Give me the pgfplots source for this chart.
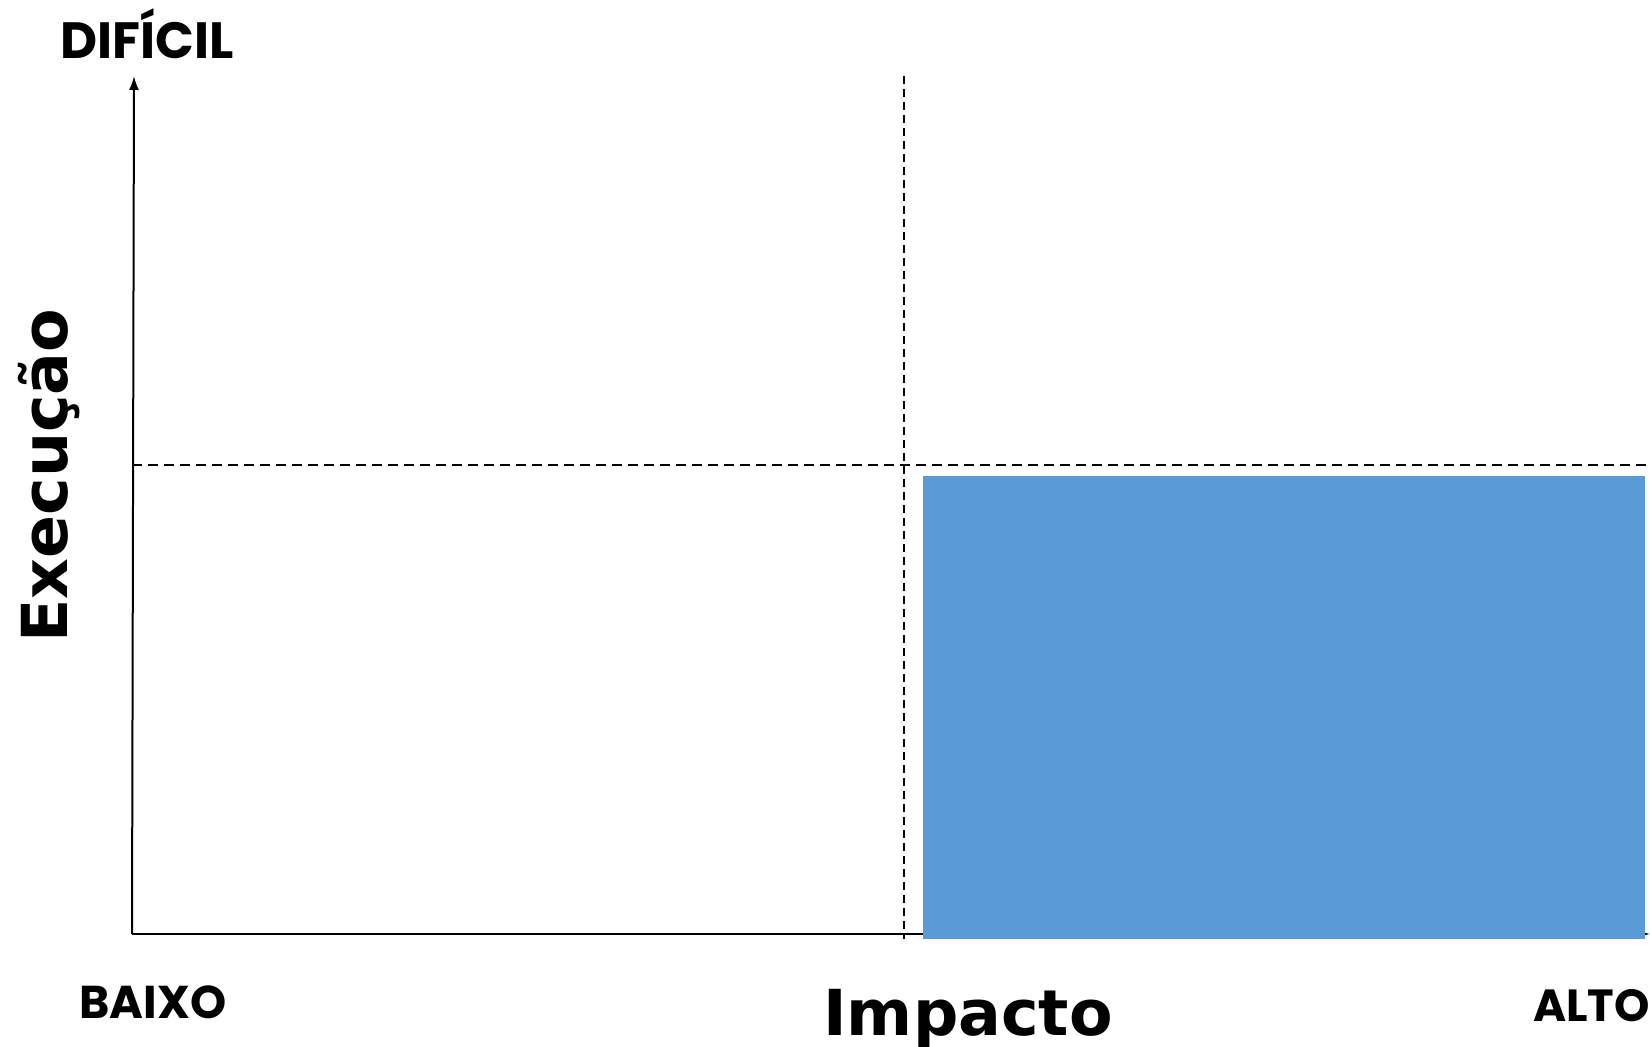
\documentclass[border=0pt]{standalone}
\usepackage{pgfplots}
\pgfplotsset{compat=1.18}
\usetikzlibrary{arrows.meta}
\usepackage{fontspec}
\setmainfont{DejaVu Sans}
\newfontfamily\geo{Poppins}
\definecolor{qblue}{HTML}{5B9BD5}
\begin{document}
\begin{tikzpicture}
\begin{axis}[name=ax, hide axis, scale only axis, width=825pt, height=523.5pt,
  xmin=0, xmax=1650, ymin=0, ymax=1047, y dir=reverse, clip=false]
% dashed quadrant dividers
\addplot[black, line width=0.75pt, dash pattern=on 4pt off 2.5pt] coordinates {(904,76) (904,939)};
\addplot[black, line width=0.75pt, dash pattern=on 5pt off 3pt] coordinates {(132,465) (1650,465)};
% axes
\addplot[black, line width=1pt, -{Latex[length=7pt,width=5pt]}] coordinates {(132,934) (134,76)};
\addplot[black, line width=1pt, -{Latex[length=7pt,width=5pt]}] coordinates {(132,934) (1650,934)};
% highlighted quadrant
\addplot[fill=qblue, draw=none] coordinates {(923,476) (1645,476) (1645,939) (923,939)} -- cycle;
% labels
\node[anchor=base west, inner sep=0pt, font=\geo\bfseries\fontsize{25.5}{28}\selectfont] at (axis cs:60,59) {DIFÍCIL};
\node[anchor=base west, inner sep=0pt, font=\geo\bfseries\fontsize{23}{26}\selectfont] at (axis cs:79,1018) {BAIXO};
\node[anchor=base east, inner sep=0pt, font=\geo\bfseries\fontsize{22.5}{26}\selectfont] at (axis cs:1650,1021) {ALTO};
\node[anchor=base, inner sep=0pt, font=\bfseries\fontsize{31.7}{34}\selectfont] at (axis cs:968,1035) {Impacto};
\node[anchor=base west, rotate=90, inner sep=0pt, font=\bfseries\fontsize{31.7}{34}\selectfont] at (axis cs:68,643) {Execução};
\end{axis}
\pgfresetboundingbox
\path (ax.south west) rectangle (ax.north east);
\end{tikzpicture}
\end{document}
